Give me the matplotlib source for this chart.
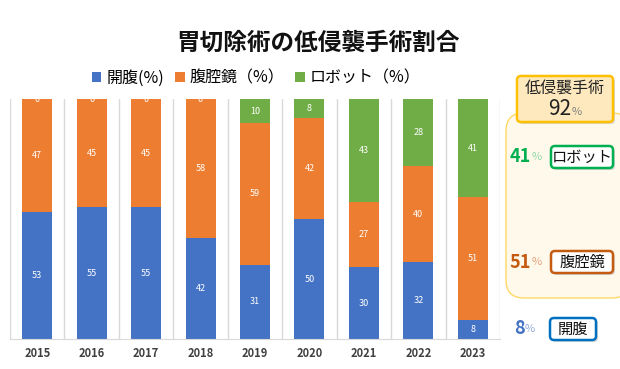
import matplotlib.pyplot as plt
from matplotlib import patches
import numpy as np

plt.rcParams['font.family'] = ['Noto Sans CJK JP', 'DejaVu Sans']

years = ["2015", "2016", "2017", "2018", "2019", "2020", "2021", "2022", "2023"]
open_pct = [53, 55, 55, 42, 31, 50, 30, 32, 8]
lap_pct = [47, 45, 45, 58, 59, 42, 27, 40, 51]
robot_pct = [0, 0, 0, 0, 10, 8, 43, 28, 41]

series_names = ["開腹(%)", "腹腔鏡（%）", "ロボット（%）"]
colors = ["#4472C4", "#ED7D31", "#70AD47"]

fig = plt.figure(figsize=(6.2, 3.69), dpi=100)
ax = fig.add_axes([10 / 620, 30 / 369, 490 / 620, 240 / 369])

x = np.arange(len(years))
bottom = np.zeros(len(years))
handles = []
for vals, name, c in zip([open_pct, lap_pct, robot_pct], series_names, colors):
    vals = np.array(vals, dtype=float)
    b = ax.bar(x, vals, 0.55, bottom=bottom, color=c, label=name, zorder=2)
    handles.append(b)
    for xi, v, b0 in zip(x, vals, bottom):
        y = b0 + v / 2 if v > 0 else 100
        ax.text(xi, y, f"{int(v)}", color="white", fontsize=6.5,
                ha="center", va="center", zorder=3, clip_on=True)
    bottom += vals

ax.set_xlim(-0.5, len(years) - 0.5)
ax.set_ylim(0, 100)
ax.set_yticks([])
ax.set_xticks(x)
ax.set_xticklabels(years, fontsize=8, color="#404040", fontweight="bold")
ax.tick_params(axis="x", length=0, pad=6)
ax.set_xticks(np.arange(-0.5, len(years)), minor=True)
ax.tick_params(axis="x", which="minor", length=0)
ax.grid(True, which="minor", axis="x", color="#D9D9D9", linewidth=1, zorder=0)
for s in ["top", "left", "right"]:
    ax.spines[s].set_visible(False)
ax.spines["bottom"].set_color("#D9D9D9")

fig.text(0.513, 0.883, "胃切除術の低侵襲手術割合", fontsize=17, fontweight="bold",
         ha="center", va="center", color="#111111")

fig.legend(handles=handles, labels=series_names, loc="center",
           bbox_to_anchor=(0.413, 0.788), ncol=3, frameon=False, fontsize=11.5,
           handlelength=0.6, handleheight=0.6, handletextpad=0.3, columnspacing=0.7)

# right side annotation panel in pixel coordinates
ov = fig.add_axes([0, 0, 1, 1], facecolor="none")
ov.set_xlim(0, 620)
ov.set_ylim(369, 0)
ov.axis("off")

ov.add_patch(patches.FancyBboxPatch((506, 113), 124, 185,
             boxstyle="round,pad=0,rounding_size=18",
             facecolor="#FFF9EC", edgecolor="#FFD966", linewidth=1))


def label_box(x0, y0, w, h, text, edge, face="white", fs=11, shadow=True):
    if shadow:
        ov.add_patch(patches.FancyBboxPatch((x0 + 2, y0 + 2), w, h,
                     boxstyle="round,pad=0,rounding_size=4",
                     facecolor="#BFBFBF", edgecolor="none", alpha=0.6))
    ov.add_patch(patches.FancyBboxPatch((x0, y0), w, h,
                 boxstyle="round,pad=0,rounding_size=4",
                 facecolor=face, edgecolor=edge, linewidth=1.8))
    if text:
        ov.text(x0 + w / 2, y0 + h / 2, text, fontsize=fs, ha="center",
                va="center", color="#111111")


label_box(517, 76, 96, 46, None, "#FFC000", face="#FEE9BF")
ov.text(565, 88, "低侵襲手術", fontsize=11.5, ha="center", va="center", color="#222222")
ov.text(560, 109, "92", fontsize=15, ha="center", va="center", color="#222222")
ov.text(577, 112, "%", fontsize=8, ha="center", va="center", color="#7F7F7F")

label_box(551, 146, 62, 22, "ロボット", "#00B050")
label_box(551, 251, 62, 22, "腹腔鏡", "#C55A11")
label_box(550, 318, 46, 22, "開腹", "#0070C0")

pct_colors = {"#00B050": "#8FD9A8", "#C55A11": "#E3A27C", "#4472C4": "#8FA9DC"}
for yy, num, c, xx in [(157, "41", "#00B050", 510), (262, "51", "#C55A11", 510), (329, "8", "#4472C4", 514)]:
    t = ov.text(xx, yy, num, fontsize=13, fontweight="bold", ha="left",
                va="center", color=c)
    ov.annotate("%", xy=(1, 0.5), xycoords=t, xytext=(0, 0),
                textcoords="offset points", fontsize=8, va="center",
                ha="left", color=pct_colors[c])

fig.savefig("out.png", dpi=100)
